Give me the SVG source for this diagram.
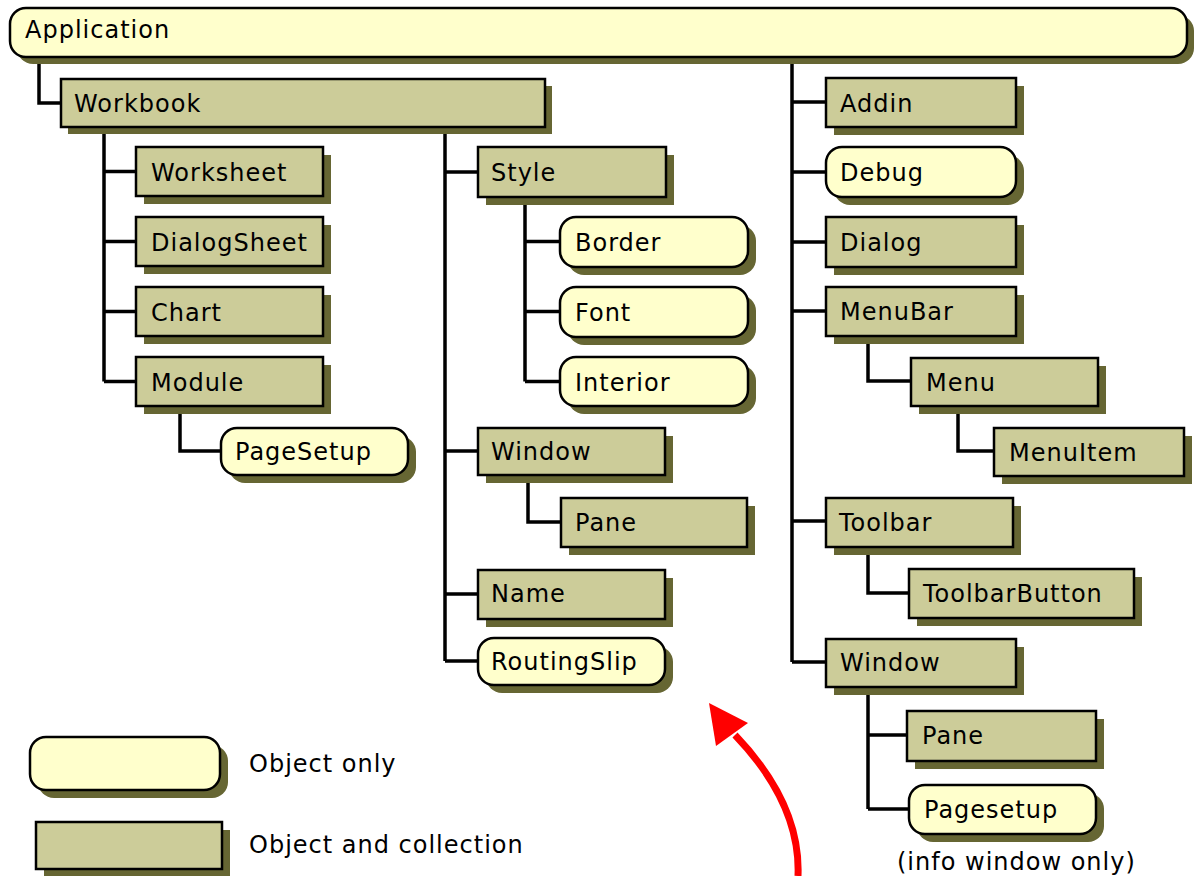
<svg xmlns="http://www.w3.org/2000/svg" width="1197" height="876" viewBox="0 0 1197 876">
<style>
.sh{fill:#666633;stroke:none}
.r{fill:#cccc99;stroke:#000;stroke-width:2.5}
.o{fill:#ffffcc;stroke:#000;stroke-width:2.5}
text{font-family:"DejaVu Sans","Liberation Sans",sans-serif;font-size:24px;letter-spacing:1px;fill:#000}
.c{fill:none;stroke:#000;stroke-width:3.5}
</style>
<rect width="1197" height="876" fill="#fff"/>
<g id="connectors">
<path class="c" d="M39,57 V103 H61"/>
<path class="c" d="M104,127 V381.5 M104,171.5 H136 M104,241.5 H136 M104,311.5 H136 M104,381.5 H136"/>
<path class="c" d="M180,406 V451 H221"/>
<path class="c" d="M445,127 V661 M445,172 H478 M445,451 H478 M445,594 H478 M445,661 H478"/>
<path class="c" d="M525,197 V381.5 M525,241.5 H560 M525,311.5 H560 M525,381.5 H560"/>
<path class="c" d="M528,475 V522 H561"/>
<path class="c" d="M792,57 V662 M792,102 H826 M792,172 H826 M792,242 H826 M792,311 H826 M792,521 H826 M792,662 H826"/>
<path class="c" d="M868,336 V381 H911"/>
<path class="c" d="M958,406 V451 H994"/>
<path class="c" d="M868,547 V593 H909"/>
<path class="c" d="M868,687 V809 M868,735 H907 M868,809 H909"/>
</g>
<g id="application"><rect class="sh" x="17" y="15" width="1177" height="49" rx="16"/><rect class="o" x="10" y="8" width="1177" height="49" rx="16"/><text x="25" y="38">Application</text></g>
<g id="workbook"><rect class="sh" x="68" y="86" width="484" height="48"/><rect class="r" x="61" y="79" width="484" height="48"/><text x="74" y="112">Workbook</text></g>
<g id="worksheet"><rect class="sh" x="144" y="155" width="187" height="49"/><rect class="r" x="136" y="147" width="187" height="49"/><text x="151" y="181">Worksheet</text></g>
<g id="dialogsheet"><rect class="sh" x="144" y="225" width="187" height="49"/><rect class="r" x="136" y="217" width="187" height="49"/><text x="151" y="251">DialogSheet</text></g>
<g id="chart"><rect class="sh" x="144" y="295" width="187" height="49"/><rect class="r" x="136" y="287" width="187" height="49"/><text x="151" y="321">Chart</text></g>
<g id="module"><rect class="sh" x="144" y="365" width="187" height="49"/><rect class="r" x="136" y="357" width="187" height="49"/><text x="151" y="391">Module</text></g>
<g id="pagesetup"><rect class="sh" x="229" y="436" width="187" height="47" rx="16"/><rect class="o" x="221" y="428" width="187" height="47" rx="16"/><text x="235" y="460">PageSetup</text></g>
<g id="style"><rect class="sh" x="486" y="155" width="188" height="50"/><rect class="r" x="478" y="147" width="188" height="50"/><text x="491" y="181">Style</text></g>
<g id="border"><rect class="sh" x="568" y="225" width="188" height="50" rx="16"/><rect class="o" x="560" y="217" width="188" height="50" rx="16"/><text x="575" y="251">Border</text></g>
<g id="font"><rect class="sh" x="568" y="295" width="188" height="50" rx="16"/><rect class="o" x="560" y="287" width="188" height="50" rx="16"/><text x="575" y="321">Font</text></g>
<g id="interior"><rect class="sh" x="568" y="365" width="188" height="49" rx="16"/><rect class="o" x="560" y="357" width="188" height="49" rx="16"/><text x="575" y="391">Interior</text></g>
<g id="window1"><rect class="sh" x="486" y="436" width="187" height="47"/><rect class="r" x="478" y="428" width="187" height="47"/><text x="491" y="460">Window</text></g>
<g id="pane1"><rect class="sh" x="569" y="506" width="186" height="49"/><rect class="r" x="561" y="498" width="186" height="49"/><text x="575" y="531">Pane</text></g>
<g id="name"><rect class="sh" x="486" y="578" width="187" height="49"/><rect class="r" x="478" y="570" width="187" height="49"/><text x="491" y="602">Name</text></g>
<g id="routingslip"><rect class="sh" x="486" y="646" width="187" height="47" rx="16"/><rect class="o" x="478" y="638" width="187" height="47" rx="16"/><text x="491" y="670">RoutingSlip</text></g>
<g id="addin"><rect class="sh" x="834" y="86" width="190" height="49"/><rect class="r" x="826" y="78" width="190" height="49"/><text x="840" y="112">Addin</text></g>
<g id="debug"><rect class="sh" x="834" y="155" width="190" height="50" rx="16"/><rect class="o" x="826" y="147" width="190" height="50" rx="16"/><text x="840" y="181">Debug</text></g>
<g id="dialog"><rect class="sh" x="834" y="225" width="190" height="50"/><rect class="r" x="826" y="217" width="190" height="50"/><text x="840" y="251">Dialog</text></g>
<g id="menubar"><rect class="sh" x="834" y="295" width="190" height="49"/><rect class="r" x="826" y="287" width="190" height="49"/><text x="840" y="320">MenuBar</text></g>
<g id="menu"><rect class="sh" x="919" y="366" width="187" height="48"/><rect class="r" x="911" y="358" width="187" height="48"/><text x="926" y="391">Menu</text></g>
<g id="menuitem"><rect class="sh" x="1002" y="436" width="190" height="48"/><rect class="r" x="994" y="428" width="190" height="48"/><text x="1009" y="461">MenuItem</text></g>
<g id="toolbar"><rect class="sh" x="834" y="506" width="187" height="49"/><rect class="r" x="826" y="498" width="187" height="49"/><text x="839" y="531">Toolbar</text></g>
<g id="toolbarbutton"><rect class="sh" x="917" y="577" width="225" height="49"/><rect class="r" x="909" y="569" width="225" height="49"/><text x="923" y="602">ToolbarButton</text></g>
<g id="window2"><rect class="sh" x="834" y="647" width="190" height="48"/><rect class="r" x="826" y="639" width="190" height="48"/><text x="840" y="671">Window</text></g>
<g id="pane2"><rect class="sh" x="915" y="719" width="189" height="50"/><rect class="r" x="907" y="711" width="189" height="50"/><text x="922" y="744">Pane</text></g>
<g id="pagesetup2"><rect class="sh" x="917" y="793" width="187" height="49" rx="16"/><rect class="o" x="909" y="785" width="187" height="49" rx="16"/><text x="924" y="818">Pagesetup</text><text x="897" y="870">(info window only)</text></g>
<g id="legend-object"><rect class="sh" x="38" y="745" width="190" height="53" rx="16"/><rect class="o" x="30" y="737" width="190" height="53" rx="16"/><text x="249" y="772">Object only</text></g>
<g id="legend-collection"><rect class="sh" x="44" y="830" width="186" height="47"/><rect class="r" x="36" y="822" width="186" height="47"/><text x="249" y="853">Object and collection</text></g>
<g id="red-arrow"><path d="M798,876 Q801,804 735,735" fill="none" stroke="#ff0000" stroke-width="7"/><polygon points="709,703 748,723 716,746" fill="#ff0000"/></g>
</svg>
